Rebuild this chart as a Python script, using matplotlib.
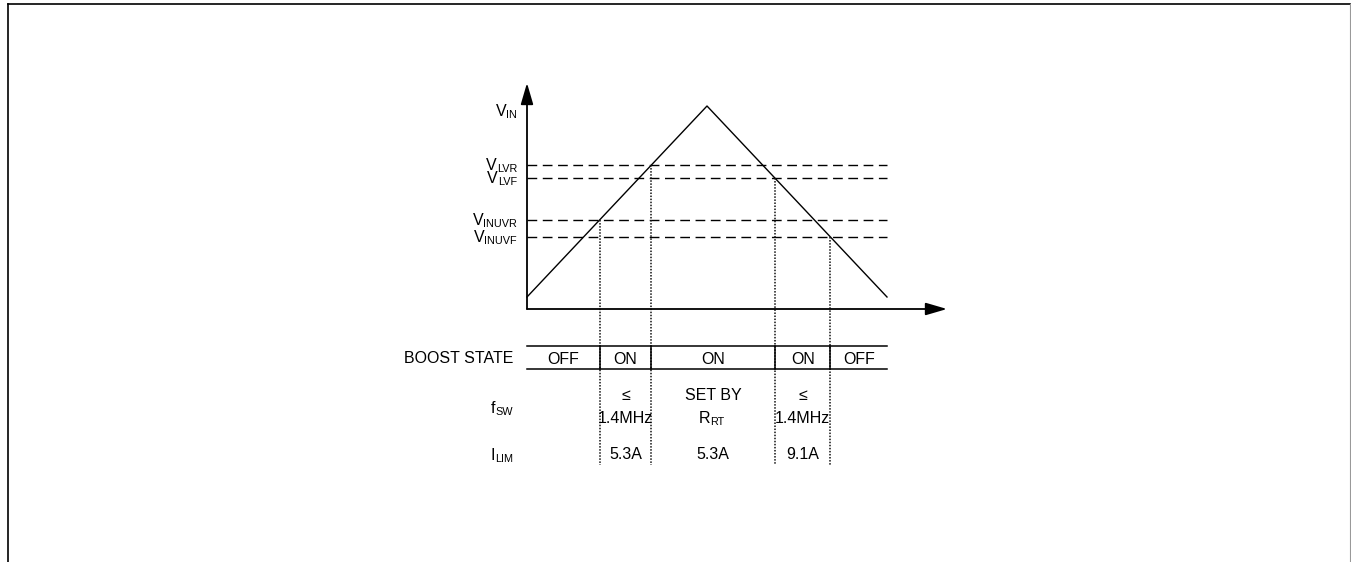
import numpy as np
import matplotlib
matplotlib.use("Agg")
import matplotlib.pyplot as plt
from matplotlib import font_manager
from matplotlib.lines import Line2D

# pick a condensed sans if we have it
def pick_font():
    for fam in ["Liberation Sans Narrow", "Liberation Sans"]:
        try:
            font_manager.findfont(font_manager.FontProperties(family=fam), fallback_to_default=False)
            return fam
        except Exception:
            pass
    return "DejaVu Sans"

FONT = pick_font()
plt.rcParams["font.family"] = [FONT, "DejaVu Sans"]

# ---- data ----
t_wave = [0, 180, 360]          # time (arbitrary units)
v_wave = [12, 203, 12]          # VIN ramp up / down
threshold_names = ["LVR", "LVF", "INUVR", "INUVF"]
threshold_levels = [144, 131, 89, 72]
boost_states = ["OFF", "ON", "ON", "ON", "OFF"]
fsw_top = ["", "≤", "SET BY", "≤", ""]
fsw_bottom = ["", "1.4MHz", "R|RT", "1.4MHz", ""]   # "|" splits main text and subscript
ilim_values = ["", "5.3A", "5.3A", "9.1A", ""]

# crossing times: rising through INUVR and LVR, falling through LVF and INUVF
lv = dict(zip(threshold_names, threshold_levels))
t_rise = lambda v: np.interp(v, [v_wave[0], v_wave[1]], [t_wave[0], t_wave[1]])
t_fall = lambda v: np.interp(v, [v_wave[2], v_wave[1]], [t_wave[2], t_wave[1]])
cross = [(t_rise(lv["INUVR"]), lv["INUVR"]), (t_rise(lv["LVR"]), lv["LVR"]),
         (t_fall(lv["LVF"]), lv["LVF"]), (t_fall(lv["INUVF"]), lv["INUVF"])]
edges = [t_wave[0]] + [c[0] for c in cross] + [t_wave[-1]]
centers = [(a + b) / 2 for a, b in zip(edges[:-1], edges[1:])]

# ---- figure ----
W, H = 1351, 562
fig = plt.figure(figsize=(W / 100, H / 100), dpi=100)
ax = fig.add_axes([0, 0, 1, 1])
ax.set_xlim(-527, W - 527)
ax.set_ylim(309 - H, 309)
ax.axis("off")

fs = 11.5
sfs = fs * 0.68
DROP = 2


def sub_label(x, y, main, sub, ha="right"):
    # "main" + subscript "sub"; the subscript is anchored at x, main sits to its left
    s = ax.text(x, y - DROP, sub, ha=ha, va="baseline", fontsize=sfs)
    ax.annotate(main, xy=(0, y), xycoords=(s, "data"), ha="right", va="baseline", fontsize=fs)


# page frame
fig.add_artist(Line2D([8 / W, 8 / W], [0, 1 - 4 / H], transform=fig.transFigure, color="black", lw=1.2))
fig.add_artist(Line2D([8 / W, 1350 / W], [1 - 4 / H, 1 - 4 / H], transform=fig.transFigure, color="black", lw=1.2))
fig.add_artist(Line2D([1350 / W, 1350 / W], [0, 1 - 4 / H], transform=fig.transFigure, color="#999999", lw=0.8))

# axes with arrows
arrow = dict(arrowstyle="-|>,head_length=1.3,head_width=0.38", lw=1.3, color="black",
             shrinkA=0, shrinkB=0, mutation_scale=10)
ax.annotate("", xy=(0, 226), xytext=(0, 0), arrowprops=arrow)
ax.annotate("", xy=(420, 0), xytext=(0, 0), arrowprops=arrow)

# threshold dashed lines
for lvl in threshold_levels:
    ax.plot([t_wave[0], t_wave[-1]], [lvl, lvl], color="black", lw=1.0, ls=(0, (7, 4)))

# VIN waveform
ax.plot(t_wave, v_wave, color="black", lw=1.0)

sub_label(-10, max(v_wave) - 10, "V", "IN")
for name, lvl in zip(threshold_names, threshold_levels):
    sub_label(-10, lvl - 5, "V", name)

# boundary lines down through table
table_top, table_bot, bottom = -37, -60, -156
for tc, vc in cross:
    ax.plot([tc, tc], [vc, bottom], color="#111111", lw=1.1, ls=(0, (1, 1)))
    ax.plot([tc, tc], [table_top, table_bot], color="black", lw=1.1)
ax.plot([t_wave[0], t_wave[-1]], [table_top, table_top], color="black", lw=1.1)
ax.plot([t_wave[0], t_wave[-1]], [table_bot, table_bot], color="black", lw=1.1)

# row labels
ax.text(-14, -54, "BOOST STATE", ha="right", va="baseline", fontsize=fs)
sub_label(-14, -104, "f", "SW")
sub_label(-14, -151, "I", "LIM")

for c, st, ft, fb, il in zip(centers, boost_states, fsw_top, fsw_bottom, ilim_values):
    ax.text(c, -55, st, ha="center", va="baseline", fontsize=fs)
    if ft:
        ax.text(c, -91, ft, ha="center", va="baseline", fontsize=fs)
    if "|" in fb:
        main, sub = fb.split("|")
        sub_label(c - 3, -114, main, sub, ha="left")
    elif fb:
        ax.text(c, -114, fb, ha="center", va="baseline", fontsize=fs)
    if il:
        ax.text(c, -150, il, ha="center", va="baseline", fontsize=fs)

fig.savefig("out.png", dpi=100)
